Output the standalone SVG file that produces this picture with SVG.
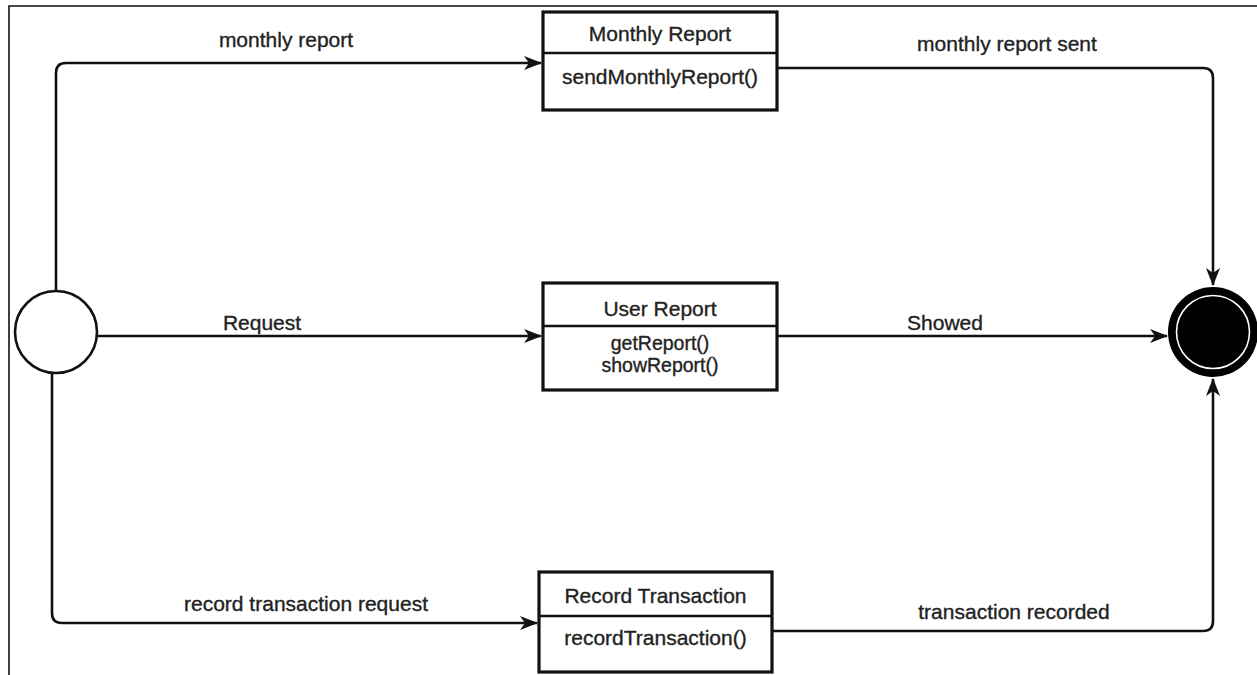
<svg xmlns="http://www.w3.org/2000/svg" width="1257" height="675" viewBox="0 0 1257 675">
  <style>
    .frame { fill: none; stroke: #111; stroke-width: 1.6; }
    .edge { fill: none; stroke: #111; stroke-width: 2.6; stroke-linejoin: round; }
    .box { fill: #fff; stroke: #111; stroke-width: 3.2; }
    .div { stroke: #111; stroke-width: 2.6; }
    text { font-family: "Liberation Sans", Arial, sans-serif; font-size: 21px; fill: #222; stroke: #222; stroke-width: 0.35; text-anchor: middle; }
    .ops { font-size: 19.5px; }
  </style>
  <defs>
    <marker id="arrow" viewBox="0 0 18 14" refX="17" refY="7" markerWidth="18" markerHeight="14" markerUnits="userSpaceOnUse" orient="auto">
      <path d="M0,0 L18,7 L0,14 L5,7 Z" fill="#111"/>
    </marker>
  </defs>

  <rect width="1257" height="675" fill="#fff"/>
  <!-- page frame -->
  <path class="frame" d="M9,675 V6 H1257"/>

  <!-- connectors -->
  <g id="connectors">
    <path class="edge" d="M56,291 V73 Q56,63 66,63 H541" marker-end="url(#arrow)"/>
    <path class="edge" d="M98,336 H541" marker-end="url(#arrow)"/>
    <path class="edge" d="M52,373 V613 Q52,623 62,623 H537" marker-end="url(#arrow)"/>
    <path class="edge" d="M777,68 H1203 Q1213,68 1213,78 V285" marker-end="url(#arrow)"/>
    <path class="edge" d="M777,336 H1167" marker-end="url(#arrow)"/>
    <path class="edge" d="M772,631 H1203 Q1213,631 1213,621 V379" marker-end="url(#arrow)"/>
    <text x="286" y="47">monthly report</text>
    <text x="262" y="330">Request</text>
    <text x="306" y="611">record transaction request</text>
    <text x="1007" y="51">monthly report sent</text>
    <text x="945" y="330">Showed</text>
    <text x="1014" y="619">transaction recorded</text>
  </g>

  <!-- initial state -->
  <g id="start">
    <circle cx="56" cy="332" r="41" fill="#fff" stroke="#111" stroke-width="2.6"/>
  </g>

  <!-- final state -->
  <g id="end">
    <circle cx="1213" cy="332" r="45" fill="#000"/>
    <circle cx="1213" cy="332" r="36.5" fill="#000" stroke="#fff" stroke-width="1.6"/>
  </g>

  <g id="monthly-report">
    <rect class="box" x="543" y="12" width="234" height="98"/>
    <line class="div" x1="543" y1="53" x2="777" y2="53"/>
    <text x="660" y="41">Monthly Report</text>
    <text x="660" y="84">sendMonthlyReport()</text>
  </g>

  <g id="user-report">
    <rect class="box" x="543" y="283" width="234" height="107"/>
    <line class="div" x1="543" y1="326" x2="777" y2="326"/>
    <text x="660" y="316">User Report</text>
    <text class="ops" x="660" y="350">getReport()</text>
    <text class="ops" x="660" y="372">showReport()</text>
  </g>

  <g id="record-transaction">
    <rect class="box" x="539" y="572" width="233" height="100"/>
    <line class="div" x1="539" y1="616" x2="772" y2="616"/>
    <text x="655.5" y="603">Record Transaction</text>
    <text x="655.5" y="645">recordTransaction()</text>
  </g>
</svg>
